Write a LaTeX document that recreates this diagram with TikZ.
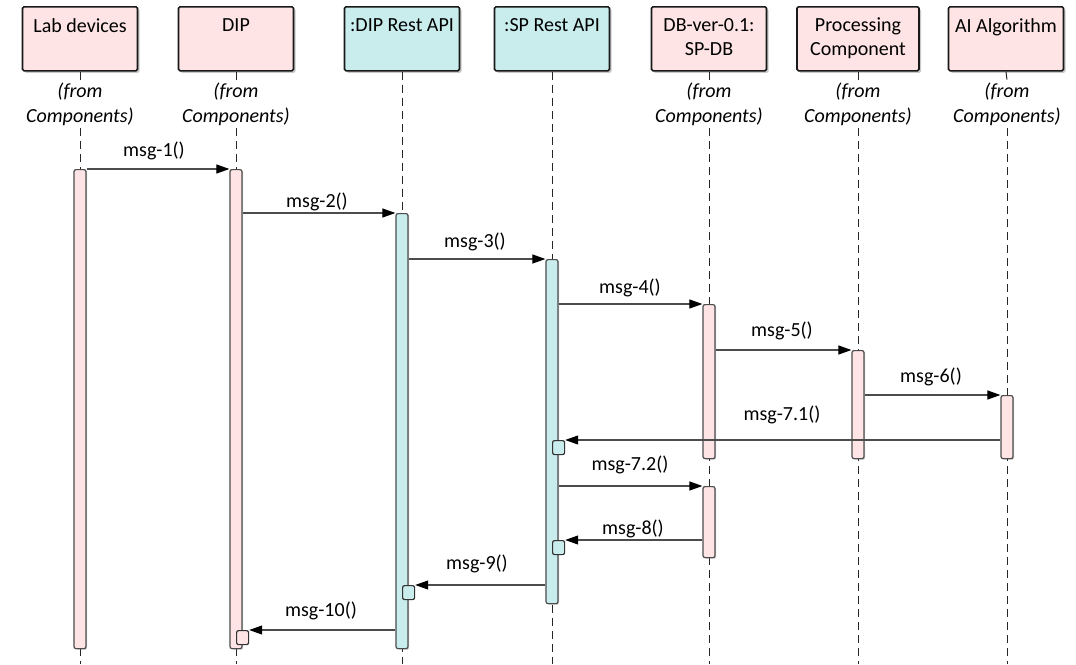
\documentclass[tikz,border=0pt]{standalone}
\usepackage{fontspec}
\setmainfont{Carlito}
\usetikzlibrary{arrows.meta,shadows,calc}
\definecolor{pinkf}{RGB}{254,228,228}
\definecolor{cyanf}{RGB}{201,236,236}
\begin{document}
\begin{tikzpicture}[x=1pt,y=-1pt,
  every node/.style={inner sep=0pt},
  hbox/.style={draw=black!90, line width=1.6pt, rounded corners=1.5pt, minimum height=64pt, anchor=north,
    drop shadow={shadow xshift=2pt, shadow yshift=-2pt, opacity=0.3, fill=black!70}},
  pinkbox/.style={fill=pinkf},
  cyanbox/.style={fill=cyanf},
  htext/.style={font=\fontsize{20}{24}\selectfont, align=center, anchor=north},
  fromtext/.style={font=\itshape\fontsize{20}{25}\selectfont, align=center, anchor=center},
  life/.style={dash pattern=on 8pt off 5pt, line width=1pt, draw=black!85},
  act/.style={draw=black!70, line width=1.2pt, rounded corners=2pt, minimum width=12pt, anchor=north,
    drop shadow={shadow xshift=1.2pt, shadow yshift=-1.2pt, opacity=0.3, fill=black!60}},
  retbox/.style={draw=black!80, line width=1.2pt, rounded corners=2pt, minimum width=12pt, minimum height=14pt, anchor=north west},
  msg/.style={draw=black!70, line width=1.1pt, -{Triangle[length=13pt,width=9pt,color=black]}},
  lbl/.style={font=\fontsize{20}{24}\selectfont, anchor=base}
]
\useasboundingbox (0,0) rectangle (1076,664);

% lifeline coordinates
\foreach \n/\x in {1/80,2/236,3/402,4/552,5/709,6/858,7/1007}{
  \coordinate (e\n) at (\x,664);
}
\foreach \n/\x in {1/80,2/236,5/709,6/858,7/1007}{
  \coordinate (fa\n) at (\x,80);
  \coordinate (fb\n) at (\x,128);
}

% headers
\node[hbox,pinkbox,minimum width=115pt] (h1) at (80,6) {};
\node[hbox,pinkbox,minimum width=115pt] (h2) at (236,6) {};
\node[hbox,cyanbox,minimum width=115pt] (h3) at (402,6) {};
\node[hbox,cyanbox,minimum width=115pt] (h4) at (552,6) {};
\node[hbox,pinkbox,minimum width=115pt] (h5) at (709,6) {};
\node[hbox,pinkbox,minimum width=122pt] (h6) at (858,6) {};
\node[hbox,pinkbox,minimum width=115pt] (h7) at (1006,6) {};

\node[htext] (t1) at (80,18) {Lab devices};
\node[htext] (t2) at (236,18) {DIP};
\node[htext] (t3) at (402,18) {:DIP Rest API};
\node[htext] (t4) at (552,18) {:SP Rest API};
\node[htext] (t5) at (709,18) {DB-ver-0.1:\\SP-DB};
\node[htext] (t6) at (858,18) {Processing\\Component};
\node[htext] (t7) at (1006,18) {AI Algorithm};

% lifelines
\foreach \n in {1,2,5,6,7}{
  \draw[life] (h\n.south) -- (fa\n);
  \draw[life] (fb\n) -- (e\n);
  \node[fromtext] (f\n) at ($(fa\n)!0.5!(fb\n)$) {(from\\Components)};
}
\draw[life] (h3.south) -- (e3);
\draw[life] (h4.south) -- (e4);

% activations
\node[act,pinkbox,minimum height=479pt] (a1) at (80,169) {};
\node[act,pinkbox,minimum height=479pt] (a2) at (236,169) {};
\node[act,cyanbox,minimum height=435pt] (a3) at (402,213) {};
\node[act,cyanbox,minimum height=344pt] (a4) at (552,259) {};
\node[act,pinkbox,minimum height=154pt] (a5) at (709,304) {};
\node[act,pinkbox,minimum height=71pt] (a5b) at (709,486) {};
\node[act,pinkbox,minimum height=108pt] (a6) at (858,350) {};
\node[act,pinkbox,minimum height=63pt] (a7) at (1007,395) {};

% return boxes
\node[retbox,cyanbox] (r1) at (552,440) {};
\node[retbox,cyanbox] (r2) at (552,540) {};
\node[retbox,cyanbox] (r3) at (402,585) {};
\node[retbox,pinkbox] (r4) at (236,630) {};

% messages
\draw[msg] (a1.north east) -- (a2.north west);
\draw[msg] (a2.east |- a3.north) -- (a3.north west);
\draw[msg] (a3.east |- a4.north) -- (a4.north west);
\draw[msg] (a4.east |- a5.north) -- (a5.north west);
\draw[msg] (a5.east |- a6.north) -- (a6.north west);
\draw[msg] (a6.east |- a7.north) -- (a7.north west);
\draw[msg] (a7.west |- r1.north) -- (r1.north east);
\draw[msg] (a4.east |- a5b.north) -- (a5b.north west);
\draw[msg] (a5b.west |- r2.north) -- (r2.north east);
\draw[msg] (a4.west |- r3.north) -- (r3.north east);
\draw[msg] (a3.west |- r4.north) -- (r4.north east);

% labels
\node[lbl] (m1) at (154,156) {msg-1()};
\node[lbl] (m2) at (317,207) {msg-2()};
\node[lbl] (m3) at (475,247) {msg-3()};
\node[lbl] (m4) at (630,293) {msg-4()};
\node[lbl] (m5) at (782,336) {msg-5()};
\node[lbl] (m6) at (931,382) {msg-6()};
\node[lbl] (m71) at (782,420) {msg-7.1()};
\node[lbl] (m72) at (630,470) {msg-7.2()};
\node[lbl] (m8) at (633,534) {msg-8()};
\node[lbl] (m9) at (477,569) {msg-9()};
\node[lbl] (m10) at (321,616) {msg-10()};
\end{tikzpicture}
\end{document}
